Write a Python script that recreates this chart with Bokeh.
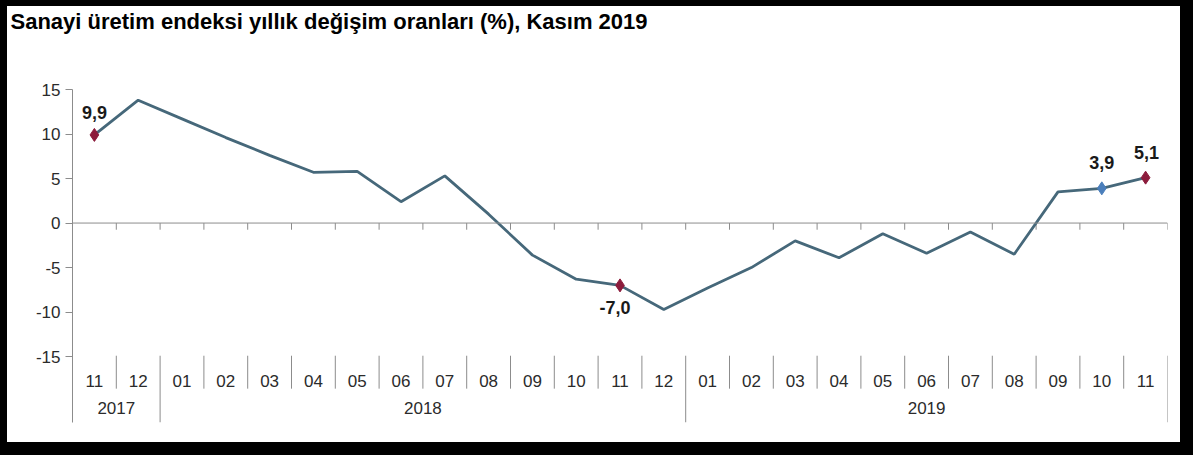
from bokeh.plotting import figure
from bokeh.models import Range1d, FixedTicker, Span, Title
from bokeh.core.properties import value
from bokeh.embed import file_html
from bokeh.resources import INLINE

months = ['11', '12',
          '01', '02', '03', '04', '05', '06', '07', '08', '09', '10', '11', '12',
          '01', '02', '03', '04', '05', '06', '07', '08', '09', '10', '11']
years = ['2017', '2018', '2019']
year_counts = [2, 12, 11]
change = [9.9, 13.8, 11.7, 9.6, 7.6, 5.7, 5.8, 2.4, 5.3, 1.0, -3.6, -6.3, -7.0,
          -9.7, -7.3, -5.0, -2.0, -3.9, -1.2, -3.4, -1.0, -3.5, 3.5, 3.9, 5.1]
y_ticks = [-15, -10, -5, 0, 5, 10, 15]
highlight = [0, 12, 23, 24]
highlight_color = ["#8c1c3c", "#8c1c3c", "#4a7ebb", "#8c1c3c"]
label_offset = [-22, 22, -26, -25]
label_dx = [0, -5, 0, 1]

FONT = value("Liberation Sans")
n = len(months)
xs = [i + 0.5 for i in range(n)]

p = figure(width=1180, height=442, x_range=Range1d(0, n), y_range=Range1d(-22.4, 15),
           output_backend="svg", toolbar_location=None, x_axis_location=None,
           min_border_left=65, min_border_right=20, min_border_top=83, min_border_bottom=26)
p.styles = {"border-left": "7px solid black", "border-top": "6px solid black",
            "outline": "13px solid black"}
p.outline_line_color = None
p.grid.visible = False
p.background_fill_color = "white"
p.border_fill_color = "white"

# empty spacer title between the frame and the real title
p.add_layout(Title(text=" ", text_font_size="10px", standoff=43), "above")
p.title.text = "Sanayi üretim endeksi  yıllık değişim oranları (%), Kasım 2019"
p.title.text_font = "Liberation Sans"
p.title.text_font_size = "22px"
p.title.text_font_style = "bold"
p.title.text_color = "black"
p.title.align = "left"
p.title.offset = -62
p.title.standoff = 0

ax = p.yaxis[0]
ax.ticker = FixedTicker(ticks=y_ticks)
ax.major_label_overrides = {t: str(t) for t in y_ticks}
ax.axis_line_color = "#8c8c8c"
ax.major_tick_line_color = "#8c8c8c"
ax.major_tick_out = 7
ax.major_tick_in = 0
ax.minor_tick_line_color = None
ax.major_label_text_font = "Liberation Sans"
ax.major_label_text_font_size = "17px"
ax.major_label_text_color = "#2b2b2b"
ax.major_label_standoff = 5

# horizontal category axis crossing at zero
p.add_layout(Span(location=0, dimension="width", line_color="#8c8c8c", line_width=1))
bounds = list(range(1, n + 1))
p.segment(x0=bounds, y0=[0] * n, x1=bounds, y1=[-0.75] * n, line_color="#8c8c8c", line_width=1)

# category label separators, long ones at year boundaries
year_edges = [0]
for c in year_counts:
    year_edges.append(year_edges[-1] + c)
short_b = [b for b in range(1, n) if b not in year_edges]
long_b = year_edges[1:]
p.segment(x0=short_b, y0=[-14.9] * len(short_b), x1=short_b, y1=[-18.6] * len(short_b),
          line_color="#8c8c8c", line_width=1)
p.segment(x0=long_b, y0=[-14.9] * len(long_b), x1=long_b, y1=[-22.4] * len(long_b),
          line_color="#8c8c8c", line_width=1)

p.text(x=xs, y=[-17.7] * n, text=months, text_font=FONT, text_font_size="17px",
       text_color="#2b2b2b", text_align="center", text_baseline="middle")
year_mid = [(year_edges[i] + year_edges[i + 1]) / 2 for i in range(len(years))]
p.text(x=year_mid, y=[-20.8] * len(years), text=years, text_font=FONT, text_font_size="17px",
       text_color="#2b2b2b", text_align="center", text_baseline="middle")

# series
p.line(xs, change, line_color="#46687a", line_width=2.8)
hx = [xs[i] for i in highlight]
hy = [change[i] for i in highlight]
p.scatter(hx, hy, marker="diamond", size=13, fill_color=highlight_color, line_color=highlight_color)
htext = [f"{v:.1f}".replace(".", ",") for v in hy]
for x, y, t, dy, dx in zip(hx, hy, htext, label_offset, label_dx):
    p.text(x=[x], y=[y], text=[t], x_offset=dx, y_offset=dy, text_font=FONT,
           text_font_size="18px", text_font_style="bold", text_color="#1a1a1a",
           text_align="center", text_baseline="middle")

open("out.html", "w").write(file_html(p, INLINE))
